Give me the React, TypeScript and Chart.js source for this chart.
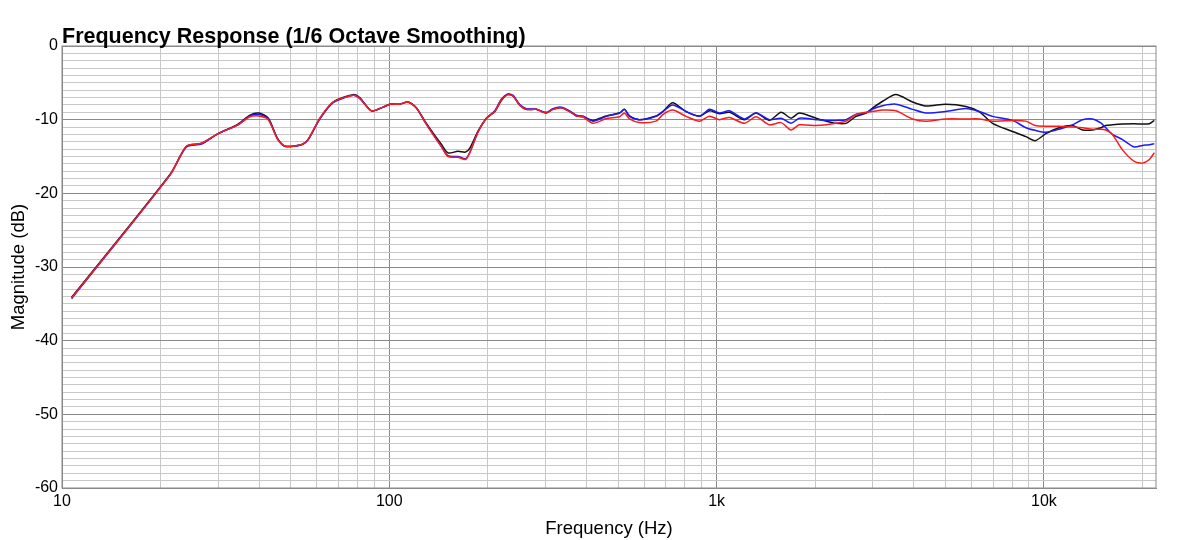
import { useEffect, useRef } from "react"
import { Chart, registerables } from "chart.js"

Chart.register(...registerables)

const FONT = "'Liberation Sans', Arial, Helvetica, sans-serif"

// frequency points (Hz)
const freqs = [
  10.7, 21.4, 24, 26.7, 30, 34.5, 37.5, 40, 42.7, 45.5, 48, 53.9, 56.5, 61.4, 67.4, 77.5, 81.2, 88.2, 95.7,
  100.6, 107.6, 114, 121, 128, 136, 144, 151, 162, 171, 176, 187, 198, 210, 220, 230, 239, 250, 262, 281,
  302, 316, 335, 356, 373, 390, 419, 460, 505, 523, 542, 581, 653, 685, 734, 807, 887, 951, 1020, 1094,
  1216, 1320, 1449, 1574, 1688, 1790, 2014, 2160, 2316, 2485, 2666, 2860, 3000, 3216, 3530, 3968, 4364,
  5012, 5776, 6344, 6966, 8016, 8810, 9400, 10140, 11130, 12220, 13120, 14070, 14920, 15450, 16190,
  17380, 18870, 20000, 21000, 21740,
]

const blackDb = [
  -34.1, -17.4, -13.6, -13.2, -11.9, -10.6, -9.4, -9.1, -9.8, -12.5, -13.6, -13.4, -12.7, -9.8, -7.6, -6.6, -7.0, -8.8, -8.3,
  -7.9, -7.9, -7.6, -8.4, -10.1, -11.8, -13.3, -14.5, -14.3, -14.4, -13.9, -11.5, -9.8, -8.9, -7.4, -6.6, -6.8, -8.0, -8.6, -8.6,
  -9.1, -8.6, -8.4, -8.9, -9.5, -9.6, -10.1, -9.5, -9.1, -8.6, -9.5, -10.0, -9.5, -8.9, -7.7, -8.9, -9.5, -8.8, -9.2, -9.0,
  -10.0, -9.1, -10.1, -9.0, -9.8, -9.1, -9.8, -10.2, -10.5, -10.5, -9.55, -9.1, -8.4, -7.5, -6.6, -7.6, -8.15,
  -7.9, -8.2, -8.9, -10.5, -11.6, -12.3, -12.85, -11.9, -11.1, -10.8, -11.4, -11.4, -11.1, -10.8, -10.7,
  -10.6, -10.55, -10.6, -10.55, -10.1,
]

const blueDb = [
  -34.3, -17.5, -13.7, -13.3, -11.9, -10.7, -9.5, -9.3, -9.9, -12.6, -13.6, -13.4, -12.7, -9.9, -7.7, -6.7, -7.1, -8.8, -8.3,
  -7.9, -7.9, -7.6, -8.4, -10.2, -12.0, -13.6, -14.9, -15.0, -15.3, -14.5, -11.6, -9.8, -8.8, -7.2, -6.5, -6.7, -7.9, -8.5, -8.6,
  -9.0, -8.5, -8.3, -8.8, -9.4, -9.5, -10.2, -9.55, -9.1, -8.6, -9.55, -10.0, -9.55, -8.9, -8.0, -8.9, -9.55, -8.6, -9.1, -8.8,
  -9.9, -9.1, -10.0, -9.8, -10.5, -9.8, -10.0, -10.1, -10.1, -10.0, -9.3, -9.1, -8.55, -8.1, -7.9, -8.6, -9.1,
  -8.9, -8.5, -8.9, -9.55, -10.1, -11.1, -11.45, -11.7, -11.3, -10.7, -10.0, -9.9, -10.45, -11.1, -12.0,
  -12.7, -13.7, -13.5, -13.4, -13.25,
]

const redDb = [
  -34.2, -17.5, -13.6, -13.2, -11.9, -10.7, -9.6, -9.5, -10.0, -12.6, -13.6, -13.4, -12.7, -9.8, -7.6, -6.7, -7.1, -8.8, -8.3,
  -7.9, -7.9, -7.6, -8.4, -10.2, -12.0, -13.6, -15.0, -15.1, -15.4, -14.5, -11.6, -9.8, -8.9, -7.3, -6.6, -6.8, -8.0, -8.6, -8.6,
  -9.1, -8.6, -8.4, -8.9, -9.5, -9.6, -10.5, -9.85, -9.6, -9.1, -9.9, -10.4, -10.2, -9.3, -8.7, -9.55, -10.2, -9.55, -10.0, -9.7,
  -10.5, -9.6, -10.7, -10.4, -11.4, -10.7, -10.8, -10.7, -10.5, -10.2, -9.3, -9.0, -8.9, -8.7, -8.8, -9.9, -10.2,
  -9.9, -9.9, -9.9, -10.2, -10.1, -10.2, -10.8, -10.9, -10.9, -11.0, -11.1, -11.3, -11.3, -11.4, -12.0,
  -14.1, -15.65, -15.9, -15.4, -14.5,
]

// every 1-2-3..9 line per decade for the grid, labels only on decades
const xGridTicks: number[] = []
for (const decade of [10, 100, 1000, 10000]) {
  for (let m = 1; m <= 9; m++) {
    if (decade * m <= 22000) xGridTicks.push(decade * m)
  }
}
const xLabels: Record<number, string> = { 10: "10", 100: "100", 1000: "1k", 10000: "10k" }

const toPoints = (vals: number[]) => freqs.map((f, i) => ({ x: f, y: vals[i] }))

const frameAndTitle = {
  id: "frameAndTitle",
  afterDraw(chart: Chart) {
    const { ctx, chartArea } = chart
    ctx.save()
    ctx.strokeStyle = "#8a8a8a"
    ctx.lineWidth = 1
    ctx.strokeRect(chartArea.left, chartArea.top, chartArea.right - chartArea.left, chartArea.bottom - chartArea.top)
    ctx.fillStyle = "#000"
    ctx.font = `bold 21.5px ${FONT}`
    ctx.textAlign = "left"
    ctx.textBaseline = "alphabetic"
    ctx.fillText("Frequency Response (1/6 Octave Smoothing)", chartArea.left, chartArea.top - 3)
    ctx.restore()
  },
}

export default function App() {
  const chartRef = useRef<HTMLCanvasElement>(null)
  const chartInstance = useRef<Chart | null>(null)

  useEffect(() => {
    if (!chartRef.current) return
    const ctx = chartRef.current.getContext("2d")
    if (!ctx) return

    if (chartInstance.current) {
      chartInstance.current.destroy()
    }

    chartInstance.current = new Chart(ctx, {
      type: "line",
      data: {
        datasets: [
          { label: "red", data: toPoints(redDb), borderColor: "#ff1a1a" },
          { label: "blue", data: toPoints(blueDb), borderColor: "#1a1aff" },
          { label: "black", data: toPoints(blackDb), borderColor: "#111111" },
        ],
      },
      options: {
        animation: false,
        responsive: true,
        maintainAspectRatio: false,
        layout: { padding: { top: 46, right: 44, left: 0, bottom: 0 } },
        elements: {
          point: { radius: 0 },
          line: { borderWidth: 1.5, tension: 0.25 },
        },
        plugins: {
          legend: { display: false },
          tooltip: { enabled: false },
        },
        scales: {
          x: {
            type: "logarithmic",
            min: 10,
            max: 22000,
            afterBuildTicks: (scale: any) => {
              scale.ticks = xGridTicks.map((v) => ({ value: v }))
            },
            afterFit: (scale: any) => {
              scale.height = 52
            },
            ticks: {
              autoSkip: false,
              maxRotation: 0,
              padding: 4,
              color: "#000",
              font: { family: FONT, size: 16 },
              callback: (v: any) => xLabels[Number(v)] ?? "",
            },
            grid: {
              drawTicks: false,
              color: (c: any) => (xLabels[c.tick?.value] ? "#8a8a8a" : "#c8c8c8"),
            },
            border: { color: "#8a8a8a" },
            title: {
              display: true,
              text: "Frequency (Hz)",
              color: "#000",
              font: { family: FONT, size: 18.5 },
              padding: { top: 0, bottom: 0 },
            },
          },
          y: {
            min: -60,
            max: 0,
            afterFit: (scale: any) => {
              scale.width = 62
            },
            ticks: {
              stepSize: 1,
              autoSkip: false,
              padding: 4,
              color: "#000",
              font: { family: FONT, size: 16 },
              callback: (v: any) => (Number(v) % 10 === 0 ? String(v) : ""),
            },
            grid: {
              drawTicks: false,
              color: (c: any) => (c.tick?.value % 10 === 0 ? "#8a8a8a" : "#c8c8c8"),
            },
            border: { color: "#8a8a8a" },
            title: {
              display: true,
              text: "Magnitude (dB)",
              color: "#000",
              font: { family: FONT, size: 18.5 },
              padding: { top: 8, bottom: 0 },
            },
          },
        },
      },
      plugins: [frameAndTitle],
    })

    return () => {
      if (chartInstance.current) {
        chartInstance.current.destroy()
        chartInstance.current = null
      }
    }
  }, [])

  return (
    <div style={{ position: "absolute", left: 0, top: 0, width: 1200, height: 540, background: "#fff" }}>
      <canvas ref={chartRef}></canvas>
    </div>
  )
}
